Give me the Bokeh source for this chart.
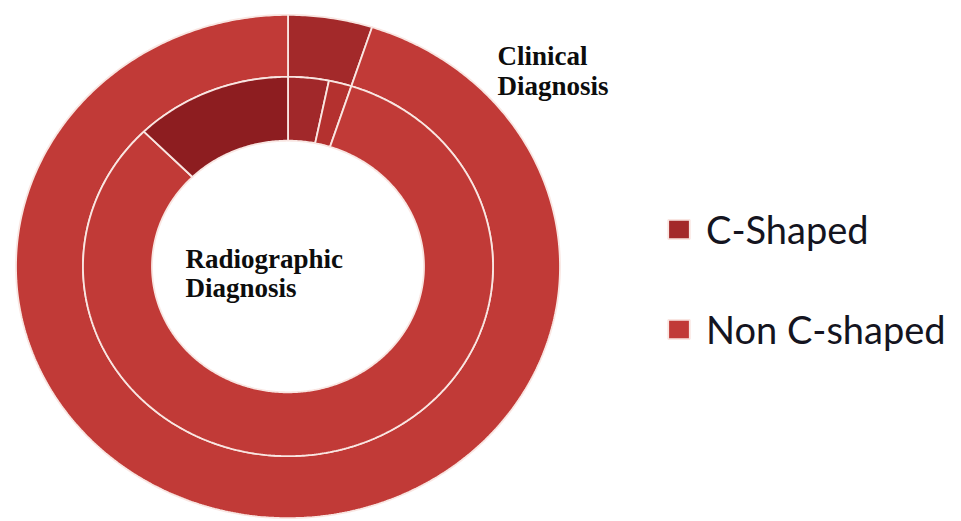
import numpy as np
from bokeh.plotting import figure
from bokeh.models import Range1d, Legend, LegendItem, ColumnDataSource
from bokeh.core.properties import value
from bokeh.embed import file_html
from bokeh.resources import INLINE

# ---- data (percent of teeth) ----
clinical_labels = ["C-Shaped", "Non C-shaped"]
clinical_values = [5.0, 95.0]
clinical_colors = ["#A3292A", "#C13A37"]

radiographic_labels = ["C-Shaped", "Non C-shaped", "Non C-shaped", "C-Shaped"]
radiographic_values = [3.2, 1.8, 82.6, 12.4]
radiographic_colors = ["#A1282A", "#B4312F", "#C13A37", "#8D1D20"]

legend_labels = ["C-Shaped", "Non C-shaped"]
ring_titles = ["Clinical", "Diagnosis", "Radiographic", "Diagnosis"]

# ---- layout constants ----
W, H = 961, 521
CX, CY = 287.5, H - 266
ASPECT = 0.925
R_OUT, R_MID, R_IN = 272, 205, 136


def ring(values, r0, r1):
    vals = np.asarray(values, dtype=float)
    edges = np.concatenate([[0.0], np.cumsum(vals)]) / vals.sum() * 2 * np.pi
    xs, ys = [], []
    for a0, a1 in zip(edges[:-1], edges[1:]):
        n = max(int((a1 - a0) / 0.01), 2)
        t = np.linspace(a0, a1, n)
        tr = t[::-1]
        x = np.concatenate([CX + r1 * np.sin(t), CX + r0 * np.sin(tr)])
        y = np.concatenate([CY + r1 * ASPECT * np.cos(t), CY + r0 * ASPECT * np.cos(tr)])
        xs.append(x.tolist())
        ys.append(y.tolist())
    return xs, ys


p = figure(width=W, height=H, x_range=Range1d(0, W), y_range=Range1d(0, H),
           output_backend="svg", toolbar_location=None, min_border=0)
p.axis.visible = False
p.grid.visible = False
p.outline_line_color = None
p.background_fill_color = "white"

ox, oy = ring(clinical_values, R_MID, R_OUT)
src_out = ColumnDataSource(dict(xs=ox, ys=oy, color=clinical_colors, label=clinical_labels))
r_out = p.patches("xs", "ys", source=src_out, fill_color="color",
                  line_color="#F9E6E2", line_width=1.8)

ix, iy = ring(radiographic_values, R_IN, R_MID)
src_in = ColumnDataSource(dict(xs=ix, ys=iy, color=radiographic_colors, label=radiographic_labels))
r_in = p.patches("xs", "ys", source=src_in, fill_color="color",
                 line_color="#F9E6E2", line_width=1.8)

# ring titles
p.text(x=[497, 497], y=[H - 55, H - 85], text=ring_titles[:2],
       text_font=value("Liberation Serif"), text_font_style="bold",
       text_font_size="27px", text_color="#0d0d0d", text_baseline="alphabetic")
p.text(x=[185, 185], y=[H - 258, H - 287], text=ring_titles[2:],
       text_font=value("Liberation Serif"), text_font_style="bold",
       text_font_size="27px", text_color="#0d0d0d", text_baseline="alphabetic")

# legend (two single-item legends for exact placement)
for i, (lab, ybot) in enumerate(zip(legend_labels, [H - 252, H - 352])):
    leg = Legend(items=[LegendItem(label=lab, renderers=[r_out], index=i)],
                 location=(665, ybot), padding=0, margin=0,
                 border_line_alpha=0, background_fill_alpha=0,
                 glyph_width=27, glyph_height=24, label_standoff=14,
                 label_text_font="Lato", label_text_font_size="38px",
                 label_text_color="#141420")
    p.add_layout(leg)

open("out.html", "w").write(file_html(p, INLINE))
